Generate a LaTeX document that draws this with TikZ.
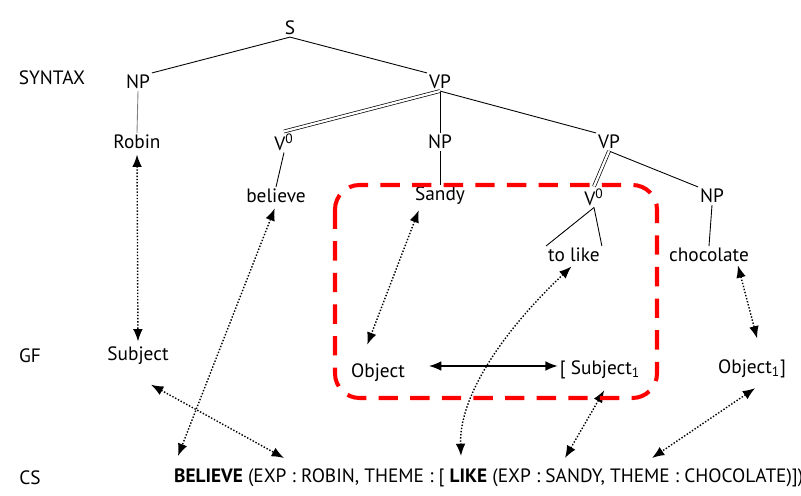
\documentclass[tikz,border=0pt]{standalone}
\usepackage{fontspec}
\setmainfont{PT Sans}
\usetikzlibrary{arrows.meta,calc}

\tikzset{
  branch/.style={line width=0.5pt},
  headline/.style={line width=0.4pt,double,double distance=1.3pt},
  link/.style={densely dotted,thick,{Latex[length=7pt,width=5.5pt]}-{Latex[length=7pt,width=5.5pt]},shorten <=2pt},
  gfline/.style={thick,{Latex[length=7pt,width=5.5pt]}-{Latex[length=7pt,width=5.5pt]}},
  redbox/.style={red,line width=2.3pt,dash pattern=on 11pt off 7pt,rounded corners=14pt}
}

\begin{document}
\begin{tikzpicture}
  [x=0.02cm,y=-0.02cm,every node/.style={inner sep=1pt,font=\fontsize{11}{13}\selectfont}]
  \useasboundingbox (0,0) rectangle (801,496);

  \node (s)       at (290,28)  {S};
  \node (syntax)  at (52,78)   {SYNTAX};
  \node (np1)     at (138,82)  {NP};
  \node (vp1)     at (440,82)  {VP};
  \node (robin)   at (137,142) {Robin};
  \node (v1)      at (284,142) {V\textsuperscript{0}};
  \node (np2)     at (440,142) {NP};
  \node (vp2)     at (609,142) {VP};
  \node (believe) at (276,196) {believe};
  \node (sandy)   at (440,196) {Sandy};
  \node (v2)      at (594,197) {V\textsuperscript{0}};
  \node (np3)     at (712,196) {NP};
  \node (tolike)  at (574,255) {to like};
  \node (choc)    at (709,255) {chocolate};
  \node (gf)      at (30,356)  {GF};
  \node (subj)    at (138,356) {Subject};
  \node (obj)     at (378,373) {Object};
  \node (subj1)   at (600,370) {[ Subject\textsubscript{1}};
  \node (obj1)    at (752,369) {Object\textsubscript{1}]};
  \node (cs)      at (30,478)  {CS};
  \node[anchor=west] (sem) at (172,478)
    {\textbf{BELIEVE} (EXP : ROBIN, THEME : [ \textbf{LIKE} (EXP : SANDY, THEME : CHOCOLATE)])};

  \coordinate (cs-believe) at (178,456);
  \coordinate (cs-robin)   at (284,458);
  \coordinate (cs-like)    at (461,456);
  \coordinate (cs-sandy)   at (565,458);
  \coordinate (cs-choc)    at (652,458);

  \foreach \from/\to in {s.south/np1.north east,s.south/vp1.north west,vp1.south/np2.north,
      vp1.south/vp2.north west,v1.south/believe.north,np2.south/sandy.north,
      vp2.south/np3.north west,np3.south/choc.north,v2.south/tolike.north west,v2.south/tolike.north east}
    \draw[branch] (\from) -- (\to);
  \draw[branch,gray] (np1.south) -- (robin.north);
  \foreach \from/\to in {vp1.south/v1.north,vp2.south/v2.north}
    \draw[headline] (\from) -- (\to);

  \draw[link,shorten >=2pt] (robin.south) -- (subj.north);
  \draw[link] (believe.south) -- (cs-believe);
  \draw[link] ($(subj.south)+(10,16)$) -- (cs-robin);
  \draw[link,shorten >=2pt] ($(sandy.south)+(-20,0)$) -- ($(obj.north)+(-12,-14)$);
  \draw[link] (tolike.south) .. controls (497,337) and (459,400) .. (cs-like);
  \draw[link] ($(subj1.south)+(6,6)$) -- (cs-sandy);
  \draw[link,shorten >=2pt] ($(choc.south)+(28,-2)$) -- ($(obj1.north)+(6,-16)$);
  \draw[link] ($(obj1.south)+(6,6)$) -- (cs-choc);
  \draw[gfline] ($(obj.east)+(22,-7)$) -- ($(subj1.west)+(0,-4)$);

  \draw[redbox] (335,185) rectangle (657,398);
\end{tikzpicture}
\end{document}
